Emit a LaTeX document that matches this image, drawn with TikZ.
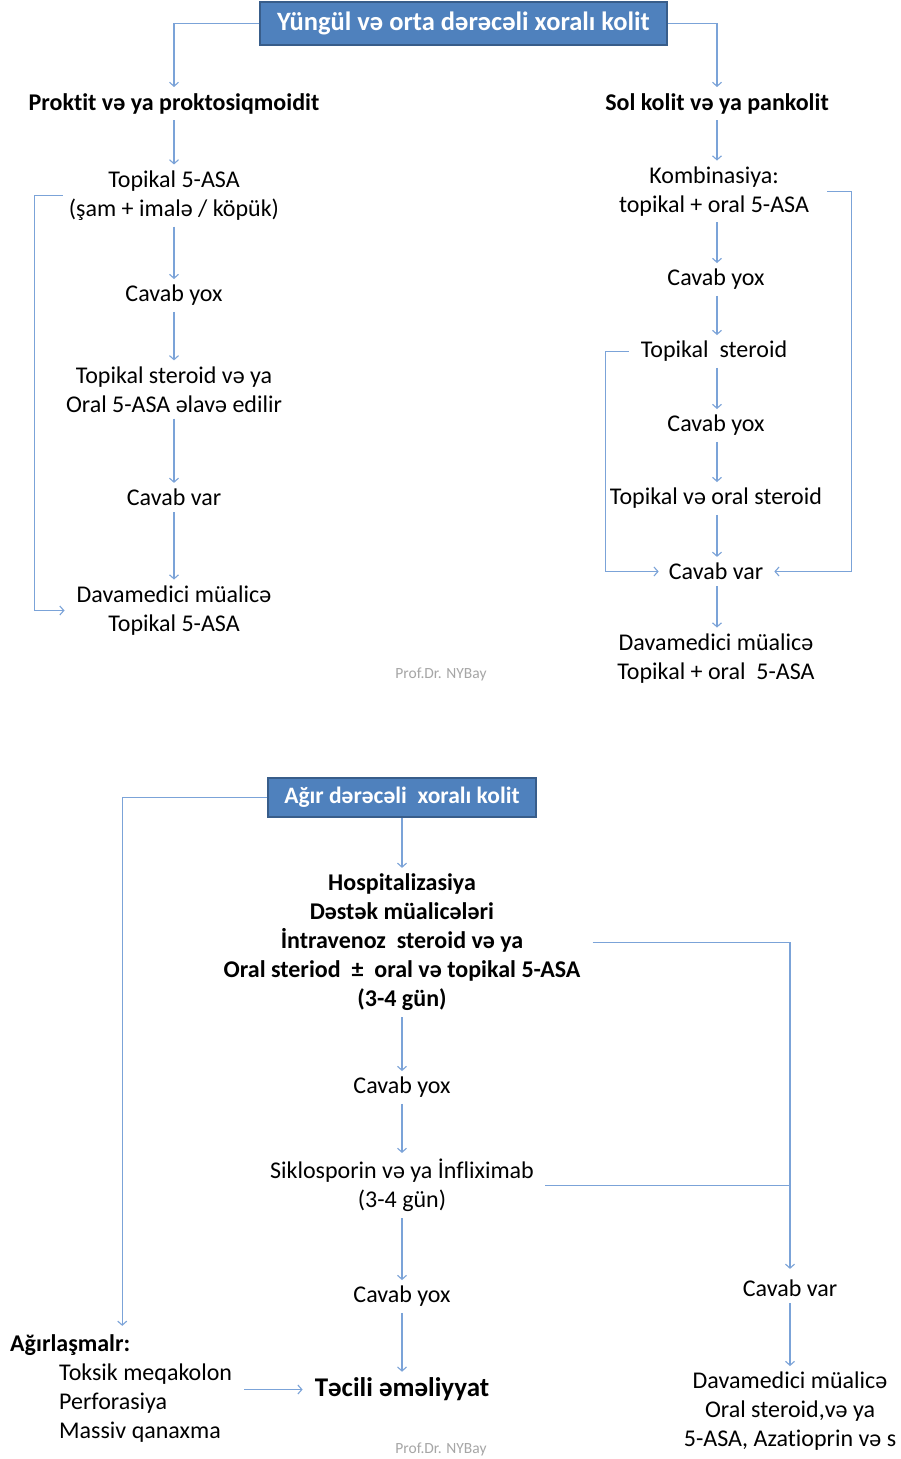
\documentclass[tikz,border=0pt]{standalone}
\usepackage{fontspec}
\setmainfont{Carlito}[Ligatures={NoCommon}]
\usetikzlibrary{arrows.meta}
\definecolor{ln}{HTML}{7BA3D8}
\definecolor{boxfill}{HTML}{4F81BD}
\definecolor{boxdraw}{HTML}{385D8A}
\definecolor{wm}{HTML}{A6A6A6}
\begin{document}
\begin{tikzpicture}[x=1pt,y=-1pt,
  txt/.style={font=\fontsize{24}{29}\selectfont, align=center, inner sep=0pt, yshift=-1.5pt},
  btxt/.style={font=\fontsize{24}{29}\selectfont\bfseries, align=center, inner sep=0pt, yshift=-1.5pt},
  con/.style={draw=ln, line width=1.1pt},
  arr/.style={con, -{Straight Barb[length=4pt,width=9pt]}, shorten <=6pt, shorten >=6pt},
  titlebox/.style={draw=boxdraw, fill=boxfill, line width=1.5pt, text=white, inner sep=0pt},
  wmark/.style={text=wm, font=\fontsize{15.5}{18}\selectfont, inner sep=0pt}]
\useasboundingbox (0,0) rectangle (901,1459);
\fill[white] (0,0) rectangle (901,1459);

% ---------- top part ----------
\node[titlebox, minimum width=407pt, minimum height=43pt, font=\fontsize{26.5}{30}\selectfont\bfseries] (t) at (463.5,23.5) {Yüngül və orta dərəcəli xoralı kolit};
\node[btxt] (p) at (174,102) {Proktit və ya proktosiqmoidit};
\node[btxt] (s) at (717,102) {Sol kolit və ya pankolit};

\node[txt] (l1) at (174,194) {Topikal 5-ASA\\(şam + imalə / köpük)};
\node[txt] (l2) at (174,294) {Cavab yox};
\node[txt] (l3) at (174,388) {Topikal steroid və ya\\Oral 5-ASA əlavə edilir};
\node[txt] (l4) at (174,496) {Cavab var};
\node[txt] (l5) at (174,609) {Davamedici müalicə\\Topikal 5-ASA};

\node[txt] (r1) at (714,190) {Kombinasiya:\\topikal + oral 5-ASA};
\node[txt] (r2) at (716,278) {Cavab yox};
\node[txt] (r3) at (714,350) {Topikal\ \ steroid};
\node[txt] (r4) at (716,424) {Cavab yox};
\node[txt] (r5) at (716,497) {Topikal və oral steroid};
\node[txt] (r6) at (716,570) {Cavab var};
\node[txt] (r7) at (716,657) {Davamedici müalicə\\Topikal + oral\ \ 5-ASA};

\node[wmark] (w1) at (441,674) {Prof.Dr. NYBay};

\draw[arr, shorten <=0pt] (t.west) -| (p.north);
\draw[arr, shorten <=0pt] (t.east) -| (s.north);

\draw[arr] (p) -- (l1);
\draw[arr] (l1) -- (l2);
\draw[arr] (l2) -- (l3);
\draw[arr] (l3) -- (l4);
\draw[arr] (l4) -- (l5);
\draw[arr, shorten <=6pt, shorten >=12pt] (l1.west) -- ++(-34,0) |- (l5.west);

\draw[arr] (s.south) -- (s.south |- r1.north);
\draw[arr] (s.south |- r1.south) -- (s.south |- r2.north);
\draw[arr] (s.south |- r2.south) -- (s.south |- r3.north);
\draw[arr] (s.south |- r3.south) -- (s.south |- r4.north);
\draw[arr] (s.south |- r4.south) -- (s.south |- r5.north);
\draw[arr] (s.south |- r5.south) -- (s.south |- r6.north);
\draw[arr] (s.south |- r6.south) -- (s.south |- r7.north);
\draw[arr, shorten <=18pt, shorten >=11pt] (r1.east) -- ++(42,0) |- (r6.east);
\draw[arr, shorten <=12pt, shorten >=10pt] (r3.west) -- ++(-35,0) |- (r6.west);

% ---------- bottom part ----------
\node[titlebox, minimum width=268pt, minimum height=39pt, font=\fontsize{23.5}{28}\selectfont\bfseries] (b) at (402,797.5) {Ağır dərəcəli\ \ xoralı kolit};
\node[btxt] (h) at (402,941) {Hospitalizasiya\\Dəstək müalicələri\\İntravenoz\ \ steroid və ya\\Oral steriod\ \ ±\ \ oral və topikal 5-ASA\\(3-4 gün)};
\node[txt] (c1) at (402,1086) {Cavab yox};
\node[txt] (si) at (402,1184) {Siklosporin və ya İnfliximab\\(3-4 gün)};
\node[txt] (c2) at (402,1295) {Cavab yox};
\node[font=\fontsize{27}{31}\selectfont\bfseries, inner sep=0pt, yshift=-1.5pt] (tc) at (402,1388) {Təcili əməliyyat};
\node[btxt, anchor=west] (ag) at (10,1344) {Ağırlaşmalr:};
\node[txt, align=left, anchor=west] (ls) at (59,1402) {Toksik meqakolon\\Perforasiya\\Massiv qanaxma};
\node[txt] (cv) at (790,1287) {Cavab var};
\node[txt] (dm) at (790,1410) {Davamedici müalicə\\Oral steroid,və ya\\5-ASA, Azatioprin və s};
\node[wmark] (w2) at (441,1449) {Prof.Dr. NYBay};

\draw[arr, shorten <=0pt] (b.south) -- (b.south |- h.north);
\draw[arr, shorten <=0pt, shorten >=9pt] (b.west) -| ([xshift=52pt]ag.north);
\draw[arr] (h) -- (c1);
\draw[arr] (c1) -- (si);
\draw[arr] (si) -- (c2);
\draw[arr] (c2) -- (tc);
\draw[arr, shorten <=12pt, shorten >=11pt] (h.east) -| (cv.north);
\draw[con, shorten <=11pt] (si.east) -- (si.east -| cv.north);
\draw[arr] (cv) -- (dm);
\draw[arr, shorten <=12pt, shorten >=12pt] (ls.east |- tc.west) -- (tc.west);
\end{tikzpicture}
\end{document}
